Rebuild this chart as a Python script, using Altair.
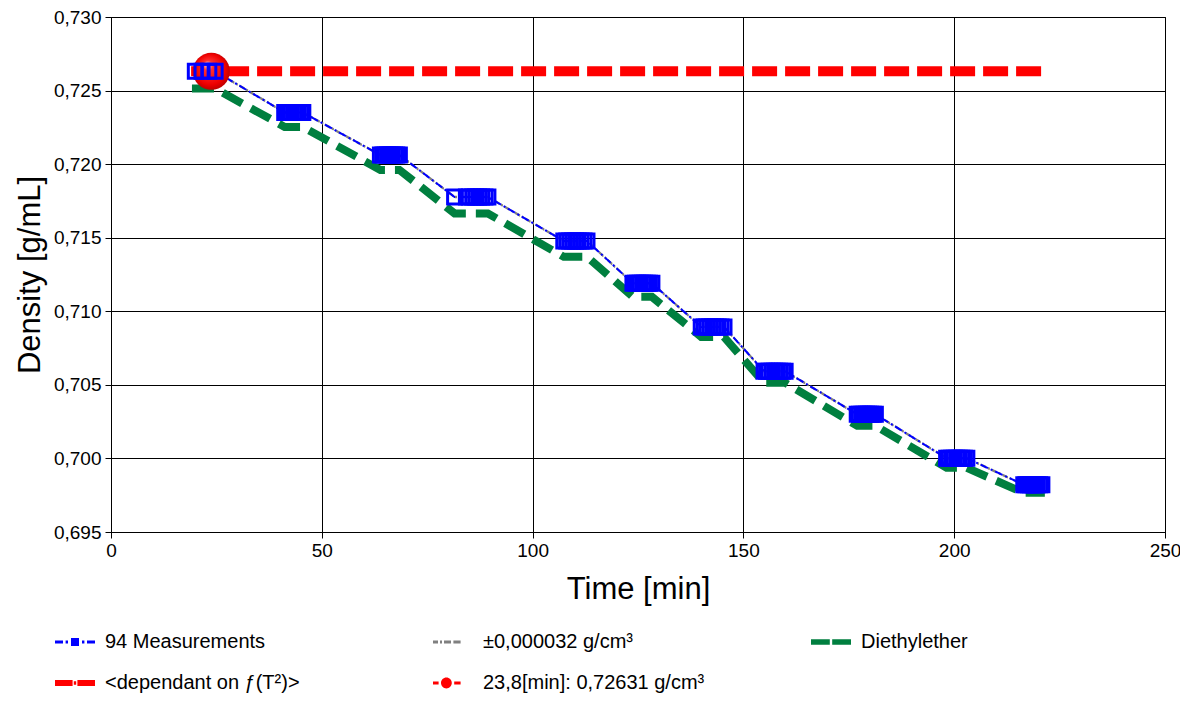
import altair as alt
import pandas as pd

# ---------------- data ----------------
cluster_times = [
    [20.0, 21.6, 23.2, 24.7],
    [41.2, 41.7, 42.3, 42.8, 43.4, 43.9, 44.4, 45.0, 45.5],
    [63.9, 64.5, 65.0, 65.6, 66.2, 66.7, 67.3, 67.8, 68.4],
    [81.5, 84.3, 85.0, 85.8, 86.5, 87.2, 87.9, 88.7, 89.4],
    [107.4, 108.1, 108.8, 109.5, 110.2, 110.8, 111.5, 112.2, 112.9],
    [123.8, 124.4, 124.9, 125.5, 126.1, 126.6, 127.2, 127.7, 128.3],
    [140.0, 140.7, 141.3, 142.0, 142.7, 143.4, 144.0, 144.7, 145.4],
    [154.9, 155.5, 156.1, 156.8, 157.4, 158.0, 158.6, 159.3, 159.9],
    [177.0, 177.5, 178.1, 178.6, 179.2, 179.7, 180.2, 180.8, 181.3],
    [198.2, 198.8, 199.4, 200.0, 200.6, 201.2, 201.8, 202.4, 203.0],
    [216.5, 217.0, 217.6, 218.1, 218.7, 219.2, 219.7, 220.3, 220.8],
]
cluster_density = [0.72631, 0.72351, 0.72062, 0.71777, 0.71478, 0.71190,
                   0.70894, 0.70592, 0.70300, 0.70001, 0.69821]
uncertainty = 0.000032

ether_time = [19.2, 24.7, 41.2, 45.5, 63.9, 68.4, 81.5, 89.4, 107.4, 112.9, 123.8,
              128.3, 140.0, 145.4, 154.9, 159.9, 177.0, 181.3, 198.2, 203.0, 216.5, 221.5]
ether_density = [0.72514, 0.72514, 0.72253, 0.72253, 0.71961, 0.71961, 0.71665, 0.71665,
                 0.71370, 0.71370, 0.71098, 0.71098, 0.70826, 0.70826, 0.70514, 0.70514,
                 0.70222, 0.70222, 0.69936, 0.69936, 0.69766, 0.69766]

dep_time = [19.0, 222.0]
dep_density = [0.72631, 0.72631]

point_time = [23.8]
point_density = [0.72631]

x_ticks = [0, 50, 100, 150, 200, 250]
y_ticks = [0.695, 0.700, 0.705, 0.710, 0.715, 0.720, 0.725, 0.730]

LBL_MEAS = "94 Measurements"
LBL_UNC = "±0,000032 g/cm³"
LBL_ETH = "Diethylether"
LBL_DEP = "<dependant on ƒ(T²)>"
LBL_PT = "23,8[min]: 0,72631 g/cm³"
# order chosen so that the column-wise legend grid reads row by row like the reference
legend_labels = [LBL_MEAS, LBL_DEP, LBL_UNC, LBL_PT, LBL_ETH]
legend_colors = ["#0000ff", "#ff0000", "#808080", "#ff0000", "#007f3f"]

# ---------------- tables ----------------
mt, md = [], []
for ts, d in zip(cluster_times, cluster_density):
    for t in ts:
        mt.append(t)
        md.append(d)
meas = pd.DataFrame({"t": mt, "d": md})
bounds = pd.concat([
    pd.DataFrame({"t": mt, "d": [v + uncertainty for v in md], "b": "upper"}),
    pd.DataFrame({"t": mt, "d": [v - uncertainty for v in md], "b": "lower"}),
])
ether = pd.DataFrame({"t": ether_time, "d": ether_density})
dep = pd.DataFrame({"t": dep_time, "d": dep_density})
pt = pd.DataFrame({"t": point_time, "d": point_density})
leg = pd.DataFrame({"series": legend_labels})

FONT = "Liberation Sans"

xenc = alt.X("t:Q", title="Time [min]",
             scale=alt.Scale(domain=[0, 250], nice=False, zero=False),
             axis=alt.Axis(values=x_ticks, format="d", tickSize=6, labelPadding=3,
                           labelFlush=False, titlePadding=14))
yenc = alt.Y("d:Q", title="Density [g/mL]",
             scale=alt.Scale(domain=[0.695, 0.730], nice=False, zero=False),
             axis=alt.Axis(values=y_ticks, tickSize=6, labelPadding=4, titlePadding=7,
                           labelFlush=False,
                           labelExpr="replace(format(datum.value, '.3f'), '.', ',')"))

# legend symbols (custom paths)
P_MEAS = ("M-1,-0.075H-0.6V0.075H-1Z M-0.47,-0.075H-0.35V0.075H-0.47Z "
          "M-0.2,-0.2H0.2V0.2H-0.2Z M0.35,-0.075H0.47V0.075H0.35Z M0.6,-0.075H1V0.075H0.6Z")
P_UNC = ("M-1,-0.07H-0.75V0.07H-1Z M-0.65,-0.07H-0.55V0.07H-0.65Z "
         "M-0.45,-0.07H-0.1V0.07H-0.45Z M0.02,-0.07H0.38V0.07H0.02Z")
P_ETH = "M-1,-0.14H-0.06V0.14H-1Z M0.06,-0.14H1V0.14H0.06Z"
P_DEP = ("M-1,-0.15H-0.12V0.15H-1Z M-0.06,-0.09H0.06V0.09H-0.06Z "
         "M0.12,-0.15H1V0.15H0.12Z")
P_PT = ("M-1,-0.07H-0.72V0.07H-1Z M-0.6,0A0.27,0.27 0 1,0 -0.06,0A0.27,0.27 0 1,0 -0.6,0Z "
        "M0.06,-0.07H0.38V0.07H0.06Z")
legend_paths = [P_MEAS, P_DEP, P_UNC, P_PT, P_ETH]

legend = alt.Legend(
    orient="none", legendX=-56, legendY=605, columns=3, gridAlign="all",
    columnPadding=106, rowPadding=11, symbolSize=1600, labelFontSize=20,
    labelFont=FONT, labelColor="black", labelOffset=10, padding=0,
    labelLimit=400, symbolOpacity=1, symbolStrokeWidth=0,
)

red_line = alt.Chart(dep).mark_line(color="#ff0000", strokeWidth=10,
                                    strokeDash=[25, 8]).encode(x=xenc, y=yenc)

ether_line = alt.Chart(ether).mark_line(color="#007f3f", strokeWidth=8,
                                        strokeDash=[22, 10]).encode(x=xenc, y=yenc)

bound_lines = alt.Chart(bounds).mark_line(color="#808080", strokeWidth=1.5,
                                          strokeDash=[6, 2, 2, 2]).encode(
    x=xenc, y=yenc, detail="b:N")

meas_line = alt.Chart(meas).mark_line(color="#0000ff", strokeWidth=2,
                                      strokeDash=[8, 3, 2, 3]).encode(x=xenc, y=yenc)

sphere = alt.Chart(pt).mark_circle(
    size=1369, opacity=1,
    fill={"gradient": "radial",
          "stops": [{"offset": 0, "color": "#fff0f0"},
                    {"offset": 0.25, "color": "#ff3030"},
                    {"offset": 0.75, "color": "#ee0000"},
                    {"offset": 1, "color": "#b00000"}],
          "x1": 0.38, "y1": 0.3, "r1": 0, "x2": 0.5, "y2": 0.5, "r2": 0.55},
).encode(x=xenc, y=yenc)

squares = alt.Chart(meas).mark_point(shape="square", filled=False, color="#0000ff",
                                     strokeWidth=3, size=196, opacity=1).encode(x=xenc, y=yenc)

legend_layer = alt.Chart(leg).mark_point(filled=True, opacity=0).encode(
    color=alt.Color("series:N", title=None,
                    scale=alt.Scale(domain=legend_labels, range=legend_colors),
                    legend=legend),
    shape=alt.Shape("series:N", title=None,
                    scale=alt.Scale(domain=legend_labels, range=legend_paths),
                    legend=legend),
)

chart = alt.layer(red_line, ether_line, bound_lines, meas_line, sphere, squares,
                  legend_layer).properties(
    width=1054, height=515,
    autosize=alt.AutoSizeParams(type="none"),
    padding={"left": 103, "top": 9, "right": 15, "bottom": 164},
).configure(font=FONT).configure_view(
    stroke="black", strokeWidth=1
).configure_axis(
    grid=True, gridColor="black", gridOpacity=1, gridWidth=1,
    domainColor="black", tickColor="black", labelColor="black", titleColor="black",
    labelFont=FONT, titleFont=FONT, labelFontSize=19, titleFontSize=31,
    titleFontWeight="normal",
)

chart.save("out.html", embed_options={"renderer": "svg", "actions": False})
